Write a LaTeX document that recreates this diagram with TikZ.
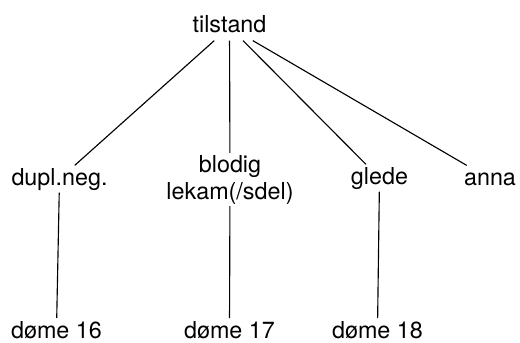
\documentclass[tikz,border=0pt]{standalone}
\usepackage{fontspec}
\setmainfont{TeX Gyre Heros}
\usepackage{tikz}

\tikzset{
  lbl/.style={anchor=base,inner sep=1.5pt,text height=13pt,text depth=4pt,font=\fontsize{17.5}{20.25}\selectfont},
  leaf/.style={lbl,text depth=0pt,inner sep=0pt,outer sep=2pt},
  twoline/.style={inner sep=1.5pt,align=center,font=\fontsize{17.5}{20.25}\selectfont},
  edge/.style={line width=0.85pt}
}

\begin{document}
\begin{tikzpicture}[x=0.75pt,y=0.75pt,yscale=-1,xscale=1]
\useasboundingbox (0,0) rectangle (520,342);

% Text Node
\node [lbl] (tilstand) at (229.5,33) {tilstand};
% Text Node
\node [lbl] (dupl) at (59.5,185) {dupl.neg.};
% Text Node
\node [twoline] (blodig) at (230,179.5) {blodig\\lekam(/sdel)};
% Text Node
\node [lbl] (glede) at (379.5,184) {glede};
% Text Node
\node [lbl] (anna) at (490,185) {anna};
% Text Node
\node [leaf] (dome16) at (56.5,338) {døme 16};
% Text Node
\node [leaf] (dome17) at (229.5,338) {døme 17};
% Text Node
\node [leaf] (dome18) at (377.5,338) {døme 18};

%Straight Lines
\draw [edge] (tilstand) -- (dupl);
\draw [edge] (tilstand) -- (blodig);
\draw [edge] (tilstand) -- (glede);
\draw [edge] (tilstand) -- (anna);
\draw [edge] (dupl) -- (dome16);
\draw [edge] (blodig) -- (dome17);
\draw [edge] (glede) -- (dome18);

\end{tikzpicture}
\end{document}
